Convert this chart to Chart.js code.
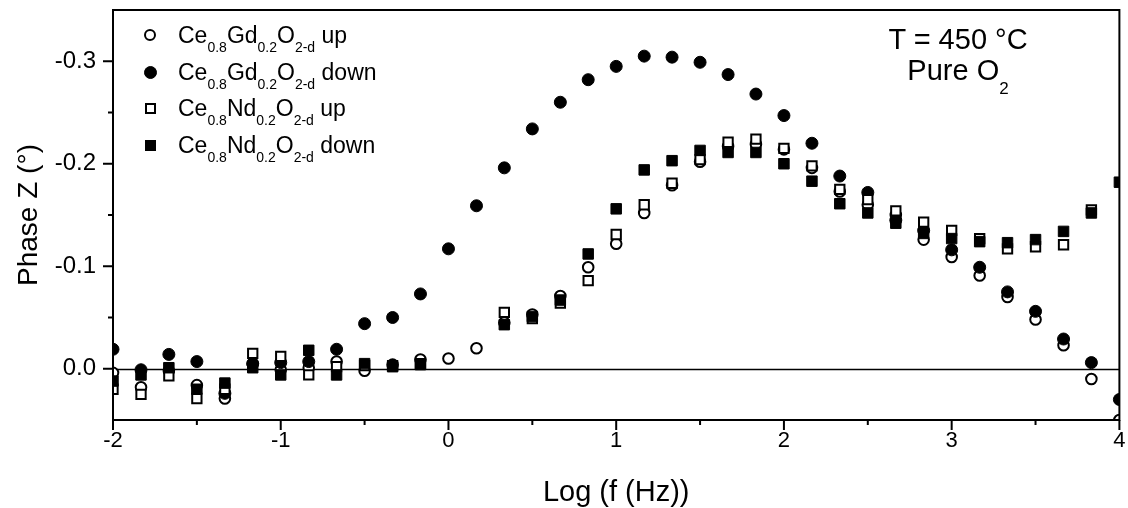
<!DOCTYPE html>
<html>
<head>
<meta charset="utf-8">
<script src="https://cdn.jsdelivr.net/npm/chart.js@4.4.1/dist/chart.umd.min.js"></script>
<style>
  html,body{margin:0;padding:0;background:#fff;}
  #wrap{position:relative;width:1128px;height:508px;font-family:"Liberation Sans",Arial,sans-serif;color:#000;}
  #wrap canvas{position:absolute;left:0;top:0;}
  .leg-row{position:absolute;left:178px;font-size:23px;line-height:24px;white-space:nowrap;}
  .leg-row sub{font-size:14px;vertical-align:-9px;line-height:0;}
  .mk{position:absolute;box-sizing:border-box;border:2px solid #000;background:#fff;}
  .mk.fill{background:#000;border-width:1px;}
  .mk.circle{border-radius:50%;}
  .note{position:absolute;font-size:29px;line-height:30px;white-space:nowrap;transform:translateX(-50%);}
  .note sub{font-size:17px;vertical-align:-14px;line-height:0;}
</style>
</head>
<body>
<div id="wrap">
  <canvas id="chart" width="1128" height="508"></canvas>
  <div id="legend"></div>
  <div class="note" style="left:958px;top:24px">T = 450 °C</div>
  <div class="note" style="left:958px;top:55px">Pure O<sub>2</sub></div>
</div>
<script>
/* ---------- données ---------- */
const LOG_F = [-2, -1.833, -1.667, -1.5, -1.333, -1.167, -1, -0.833, -0.667, -0.5, -0.333, -0.167,
  0, 0.167, 0.333, 0.5, 0.667, 0.833, 1, 1.167, 1.333, 1.5, 1.667, 1.833,
  2, 2.167, 2.333, 2.5, 2.667, 2.833, 3, 3.167, 3.333, 3.5, 3.667, 3.833, 4];

const GD_UP = [0.004, 0.018, 0.002, 0.016, 0.029, -0.005, 0.001, -0.001, -0.007, 0.002, -0.004, -0.009,
  -0.010, -0.020, -0.045, -0.053, -0.071, -0.099, -0.122, -0.152, -0.179, -0.202, -0.217, -0.219,
  -0.214, -0.196, -0.173, -0.160, -0.150, -0.126, -0.109, -0.091, -0.070, -0.048, -0.023, 0.010, 0.050];

const GD_DOWN = [-0.019, 0.001, -0.014, -0.007, 0.024, -0.005, -0.006, -0.007, -0.019, -0.044, -0.050, -0.073,
  -0.117, -0.159, -0.196, -0.234, -0.260, -0.282, -0.295, -0.305, -0.304, -0.299, -0.287, -0.268,
  -0.247, -0.220, -0.188, -0.172, -0.145, -0.135, -0.116, -0.099, -0.075, -0.056, -0.029, -0.006, 0.030];

const ND_UP = [0.020, 0.025, 0.007, 0.029, 0.020, -0.015, -0.012, 0.006, -0.002, -0.003, -0.003, -0.005,
  null, null, -0.055, -0.049, -0.064, -0.086, -0.131, -0.160, -0.181, -0.204, -0.221, -0.224,
  -0.215, -0.198, -0.175, -0.165, -0.154, -0.143, -0.135, -0.127, -0.117, -0.119, -0.121, -0.155, null];

const ND_DOWN = [0.012, 0.006, -0.001, 0.020, 0.014, -0.001, 0.006, -0.018, 0.006, -0.005, -0.002, -0.004,
  null, null, -0.043, -0.051, -0.067, -0.112, -0.156, -0.194, -0.203, -0.213, -0.211, -0.211,
  -0.200, -0.183, -0.161, -0.152, -0.142, -0.132, -0.127, -0.124, -0.123, -0.126, -0.134, -0.152, -0.182];

const SERIES_LABELS = ["Ce0.8Gd0.2O2-d up", "Ce0.8Gd0.2O2-d down", "Ce0.8Nd0.2O2-d up", "Ce0.8Nd0.2O2-d down"];
const LEGEND_HTML = [
  "Ce<sub>0.8</sub>Gd<sub>0.2</sub>O<sub>2-d</sub> up",
  "Ce<sub>0.8</sub>Gd<sub>0.2</sub>O<sub>2-d</sub> down",
  "Ce<sub>0.8</sub>Nd<sub>0.2</sub>O<sub>2-d</sub> up",
  "Ce<sub>0.8</sub>Nd<sub>0.2</sub>O<sub>2-d</sub> down"
];

const X_MAJOR = [-2, -1, 0, 1, 2, 3, 4];
const X_MINOR = [-1.5, -0.5, 0.5, 1.5, 2.5, 3.5];
const Y_MAJOR = [-0.3, -0.2, -0.1, 0];
const Y_MINOR = [-0.25, -0.15, -0.05];
const Y_MIN = -0.35, Y_MAX = 0.05;

/* ---------- utils ---------- */
const pts = (ys)=>LOG_F.map((x,i)=>({x, y: ys[i]}));

// styles: [forme, plein?]
const STYLES = [["circle",false],["circle",true],["rect",false],["rect",true]];
const SERIES = [GD_UP, GD_DOWN, ND_UP, ND_DOWN];

function makeDataset(i){
  const [shape, filled] = STYLES[i];
  const r = shape === "circle" ? (filled ? 6 : 5.3) : (filled ? 7.4 : 6.6);
  return {
    label: SERIES_LABELS[i],
    data: pts(SERIES[i]),
    showLine: false,
    pointStyle: shape,
    pointRadius: r,
    pointBackgroundColor: filled ? "#000" : "#fff",
    pointBorderColor: "#000",
    pointBorderWidth: filled ? 1 : 2,
    clip: 0,
    order: 4 - i   // les dernières séries passent dessus, comme dans Origin
  };
}

/* ---------- décor des axes (cadre, ticks, ligne zéro) ---------- */
const axesDeco = {
  id: "axesDeco",
  beforeDatasetsDraw(chart){
    const {ctx, chartArea:a, scales:{y}} = chart;
    const y0 = Math.round(y.getPixelForValue(0)) + 0.5;
    ctx.save();
    ctx.strokeStyle = "#000"; ctx.lineWidth = 1.5;
    ctx.beginPath(); ctx.moveTo(a.left, y0); ctx.lineTo(a.right, y0); ctx.stroke();
    ctx.restore();
  },
  afterDatasetsDraw(chart){
    const {ctx, chartArea:a, scales:{x,y}} = chart;
    ctx.save();
    ctx.strokeStyle = "#000"; ctx.lineWidth = 2;
    ctx.strokeRect(a.left, a.top, a.right - a.left, a.bottom - a.top);
    ctx.beginPath();
    X_MAJOR.forEach(v=>{ const p = x.getPixelForValue(v); ctx.moveTo(p, a.bottom); ctx.lineTo(p, a.bottom + 10); });
    X_MINOR.forEach(v=>{ const p = x.getPixelForValue(v); ctx.moveTo(p, a.bottom); ctx.lineTo(p, a.bottom + 5); });
    Y_MAJOR.forEach(v=>{ const p = y.getPixelForValue(v); ctx.moveTo(a.left, p); ctx.lineTo(a.left - 10, p); });
    Y_MINOR.forEach(v=>{ const p = y.getPixelForValue(v); ctx.moveTo(a.left, p); ctx.lineTo(a.left - 5, p); });
    ctx.stroke();
    ctx.restore();
  }
};

/* ---------- légende HTML (indices) ---------- */
(function buildLegend(){
  const leg = document.getElementById("legend");
  const rowsTop = [23, 60, 96, 133];
  const sizes = [12, 13, 11, 11];
  LEGEND_HTML.forEach((html, i)=>{
    const [shape, filled] = STYLES[i];
    const mk = document.createElement("div");
    mk.className = "mk" + (shape === "circle" ? " circle" : "") + (filled ? " fill" : "");
    const s = sizes[i];
    const cy = rowsTop[i] + 12;
    mk.style.cssText = `left:${150 - s/2}px;top:${cy - s/2}px;width:${s}px;height:${s}px;`;
    leg.appendChild(mk);
    const row = document.createElement("div");
    row.className = "leg-row";
    row.style.top = rowsTop[i] + "px";
    row.innerHTML = html;
    leg.appendChild(row);
  });
})();

/* ---------- graphique ---------- */
Chart.defaults.font.family = '"Liberation Sans", Arial, sans-serif';
Chart.defaults.color = "#000";

new Chart(document.getElementById("chart").getContext("2d"), {
  type: "scatter",
  data: { datasets: SERIES.map((_, i)=>makeDataset(i)) },
  options: {
    responsive: false,
    animation: false,
    layout: { padding: { top: 10, right: 4, left: 0, bottom: 0 } },
    plugins: { legend: { display: false }, tooltip: { enabled: false } },
    scales: {
      x: {
        type: "linear", min: -2, max: 4,
        afterBuildTicks: s=>{ s.ticks = X_MAJOR.map(v=>({value: v})); },
        afterFit: s=>{ s.height = 88; s.paddingLeft = 0; s.paddingRight = 0; },
        ticks: { font: { size: 22 }, color: "#000", padding: 4, maxRotation: 0, autoSkip: false, callback: v=>String(v) },
        grid: { display: false, drawTicks: true, tickLength: 4 },
        border: { display: false },
        title: { display: true, text: "Log (f (Hz))", font: { size: 29, lineHeight: 1 }, color: "#000", padding: { top: 0, bottom: 1 } }
      },
      y: {
        type: "linear", reverse: true, min: Y_MIN, max: Y_MAX,
        afterBuildTicks: s=>{ s.ticks = Y_MAJOR.map(v=>({value: v})); },
        afterFit: s=>{ s.width = 113; s.paddingTop = 0; s.paddingBottom = 0; },
        ticks: { font: { size: 24 }, color: "#000", padding: 7, callback: v=>Number(v).toFixed(1) },
        grid: { display: false, drawTicks: true, tickLength: 10 },
        border: { display: false },
        title: { display: true, text: "Phase Z (°)", font: { size: 28 }, color: "#000", padding: { top: 12, bottom: 0 } }
      }
    }
  },
  plugins: [axesDeco]
});
</script>
</body>
</html>
